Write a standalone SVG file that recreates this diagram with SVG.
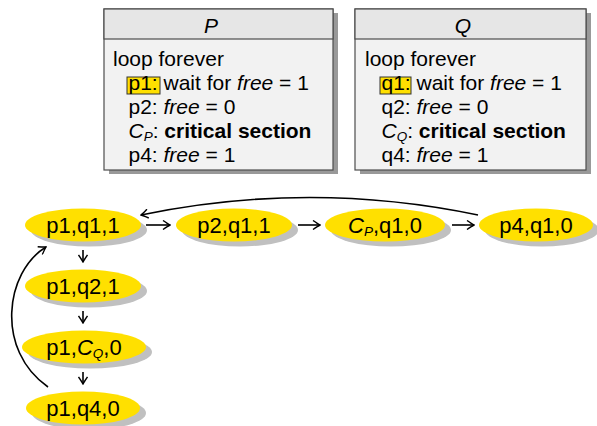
<svg xmlns="http://www.w3.org/2000/svg" width="597" height="426" viewBox="0 0 597 426">
<defs>
<style>
text{font-family:"Liberation Sans",Arial,sans-serif;fill:#000}
.bt{font-size:21px}
.nt{font-size:22px;text-anchor:middle}
.ttl{font-size:21px;font-style:italic;text-anchor:middle}
.it{font-style:italic}
.b{font-weight:bold}
.sub{font-size:13.5px;font-style:italic}
.shadow{fill:#999}
.hdr{fill:#e6e6e6;stroke:#4d4d4d;stroke-width:1.2}
.body{fill:#f2f2f2;stroke:#4d4d4d;stroke-width:1.2}
.hl{fill:#ffe000;stroke:#333;stroke-width:1}
.ell{fill:#ffe000}
.esh{fill:#c0c0c0}
.edge{fill:none;stroke:#000;stroke-width:1.6}
</style>
<marker id="ah" viewBox="-8 -5 9 10" refX="0" refY="0" markerWidth="9" markerHeight="10" markerUnits="userSpaceOnUse" orient="auto">
<path d="M-7,-4.5 Q-2,-1 0,0 Q-2,1 -7,4.5" fill="none" stroke="#000" stroke-width="1.4"/>
</marker>
</defs>

<g id="boxP">
<rect class="shadow" x="109" y="13" width="229" height="161"/>
<rect class="body" x="104" y="9" width="229" height="161"/>
<rect class="hdr" x="104" y="9" width="229" height="30"/>
<text class="ttl" x="211" y="33">P</text>
<text class="bt" x="113" y="66">loop forever</text>
<rect class="hl" x="127" y="77" width="33" height="17"/>
<text class="bt" x="128.5" y="90">p1: wait for <tspan class="it">free</tspan> = 1</text>
<text class="bt" x="128.5" y="114">p2: <tspan class="it">free</tspan> = 0</text>
<text class="bt" x="128.5" y="138"><tspan class="it">C</tspan><tspan class="sub" dy="3">P</tspan><tspan dy="-3">: </tspan><tspan class="b">critical section</tspan></text>
<text class="bt" x="128.5" y="162">p4: <tspan class="it">free</tspan> = 1</text>
</g>

<g id="boxQ">
<rect class="shadow" x="360" y="13" width="231" height="161"/>
<rect class="body" x="355" y="9" width="231" height="161"/>
<rect class="hdr" x="355" y="9" width="231" height="30"/>
<text class="ttl" x="463" y="33">Q</text>
<text class="bt" x="365" y="66">loop forever</text>
<rect class="hl" x="380" y="77" width="31" height="17"/>
<text class="bt" x="381.5" y="90">q1: wait for <tspan class="it">free</tspan> = 1</text>
<text class="bt" x="381.5" y="114">q2: <tspan class="it">free</tspan> = 0</text>
<text class="bt" x="381.5" y="138"><tspan class="it">C</tspan><tspan class="sub" dy="3">Q</tspan><tspan dy="-3">: </tspan><tspan class="b">critical section</tspan></text>
<text class="bt" x="381.5" y="162">q4: <tspan class="it">free</tspan> = 1</text>
</g>

<g id="n_p1q11">
<ellipse class="esh" cx="89" cy="230" rx="58" ry="16.5"/>
<ellipse class="ell" cx="83" cy="225" rx="58" ry="16.5"/>
<text class="nt" x="83" y="233">p1,q1,1</text>
</g>
<g id="n_p2q11">
<ellipse class="esh" cx="240" cy="230" rx="58" ry="16.5"/>
<ellipse class="ell" cx="234" cy="225" rx="58" ry="16.5"/>
<text class="nt" x="234" y="233">p2,q1,1</text>
</g>
<g id="n_cpq10">
<ellipse class="esh" cx="391" cy="230" rx="60" ry="16.5"/>
<ellipse class="ell" cx="385" cy="225" rx="60" ry="16.5"/>
<text class="nt" x="385" y="233"><tspan class="it">C</tspan><tspan class="sub" dy="3">P</tspan><tspan dy="-3">,q1,0</tspan></text>
</g>
<g id="n_p4q10">
<ellipse class="esh" cx="542" cy="230" rx="57" ry="16.5"/>
<ellipse class="ell" cx="536" cy="225" rx="57" ry="16.5"/>
<text class="nt" x="536" y="233">p4,q1,0</text>
</g>
<g id="n_p1q21">
<ellipse class="esh" cx="89" cy="291" rx="58" ry="16.5"/>
<ellipse class="ell" cx="83" cy="286" rx="58" ry="16.5"/>
<text class="nt" x="83" y="294">p1,q2,1</text>
</g>
<g id="n_p1cq0">
<ellipse class="esh" cx="90" cy="352" rx="62" ry="16.5"/>
<ellipse class="ell" cx="84" cy="347" rx="62" ry="16.5"/>
<text class="nt" x="84" y="355">p1,<tspan class="it">C</tspan><tspan class="sub" dy="3">Q</tspan><tspan dy="-3">,0</tspan></text>
</g>
<g id="n_p1q40">
<ellipse class="esh" cx="89" cy="413" rx="57" ry="16.5"/>
<ellipse class="ell" cx="83" cy="408" rx="57" ry="16.5"/>
<text class="nt" x="83" y="416">p1,q4,0</text>
</g>

<g id="connectors">
<line class="edge" x1="146" y1="225" x2="170" y2="225" marker-end="url(#ah)"/>
<line class="edge" x1="298" y1="225" x2="320" y2="225" marker-end="url(#ah)"/>
<line class="edge" x1="452" y1="225" x2="474" y2="225" marker-end="url(#ah)"/>
<line class="edge" x1="83" y1="250" x2="83" y2="262" marker-end="url(#ah)"/>
<line class="edge" x1="83" y1="311" x2="83" y2="323" marker-end="url(#ah)"/>
<line class="edge" x1="83" y1="372" x2="83" y2="384" marker-end="url(#ah)"/>
<path class="edge" d="M478,215 Q310,180 141,215" marker-end="url(#ah)"/>
<path class="edge" d="M48,387 C-5,350 5,272 46,247" marker-end="url(#ah)"/>
</g>
</svg>
